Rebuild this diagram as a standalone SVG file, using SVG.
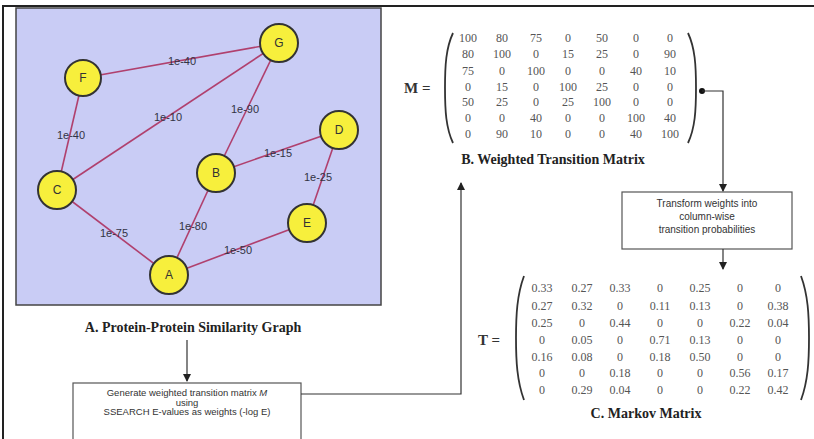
<svg xmlns="http://www.w3.org/2000/svg" width="814" height="439" viewBox="0 0 814 439">
<defs>
<style>
.node circle{fill:#f7ef3c;stroke:#333;stroke-width:2}
.node text{font-family:"Liberation Sans",Arial,sans-serif;font-size:12px;fill:#333;text-anchor:middle;dominant-baseline:central}
.edge{stroke:#b0406e;stroke-width:1.6;fill:none}
.elab{font-family:"Liberation Sans",Arial,sans-serif;font-size:11px;fill:#334;text-anchor:middle;dominant-baseline:central}
.title{font-family:"Liberation Serif","Times New Roman",serif;font-size:14px;font-weight:bold;fill:#222;text-anchor:middle}
.mx text{font-family:"Liberation Serif","Times New Roman",serif;font-size:12px;fill:#555;text-anchor:middle;dominant-baseline:central}
.meq{font-family:"Liberation Serif","Times New Roman",serif;font-size:15px;font-weight:bold;fill:#333;dominant-baseline:central}
.paren{stroke:#333;stroke-width:1.8;fill:none}
.box rect{fill:#fff;stroke:#555;stroke-width:1.2}
.box text{font-family:"Liberation Sans",Arial,sans-serif;font-size:10px;fill:#333;text-anchor:middle}
.box text.sm{font-size:9.5px}
.conn{stroke:#333;stroke-width:1.2;fill:none}
</style>
<marker id="arr" markerWidth="8" markerHeight="8" refX="7" refY="4" orient="auto" markerUnits="userSpaceOnUse">
<path d="M0,0 L8,4 L0,8 Z" fill="#222"/>
</marker>
</defs>
<rect width="814" height="439" fill="#fff"/>
<path d="M3,439 V6 H814" stroke="#222" stroke-width="2" fill="none"/>

<g id="graph-panel">
<rect x="16" y="8" width="365" height="297" fill="#c9ccf5" stroke="#444" stroke-width="1.5"/>
<g id="graph-edges">
<line class="edge" x1="83" y1="78" x2="279" y2="43"/>
<line class="edge" x1="57" y1="190" x2="279" y2="43"/>
<line class="edge" x1="216" y1="173" x2="279" y2="43"/>
<line class="edge" x1="83" y1="78" x2="57" y2="190"/>
<line class="edge" x1="216" y1="173" x2="339" y2="130"/>
<line class="edge" x1="339" y1="130" x2="307" y2="223"/>
<line class="edge" x1="57" y1="190" x2="169" y2="275"/>
<line class="edge" x1="216" y1="173" x2="169" y2="275"/>
<line class="edge" x1="169" y1="275" x2="307" y2="223"/>
<text class="elab" x="182" y="61">1e-40</text>
<text class="elab" x="168" y="117">1e-10</text>
<text class="elab" x="245" y="109">1e-90</text>
<text class="elab" x="71" y="135">1e-40</text>
<text class="elab" x="278" y="153">1e-15</text>
<text class="elab" x="318" y="177">1e-25</text>
<text class="elab" x="114" y="233">1e-75</text>
<text class="elab" x="193" y="226">1e-80</text>
<text class="elab" x="238" y="250">1e-50</text>
</g>
<g id="node-G" class="node"><circle cx="279" cy="43" r="19"/><text x="279" y="43">G</text></g>
<g id="node-F" class="node"><circle cx="83" cy="78" r="18"/><text x="83" y="78">F</text></g>
<g id="node-D" class="node"><circle cx="339" cy="130" r="19"/><text x="339" y="130">D</text></g>
<g id="node-B" class="node"><circle cx="216" cy="173" r="19"/><text x="216" y="173">B</text></g>
<g id="node-C" class="node"><circle cx="57" cy="190" r="19"/><text x="57" y="190">C</text></g>
<g id="node-E" class="node"><circle cx="307" cy="223" r="19"/><text x="307" y="223">E</text></g>
<g id="node-A" class="node"><circle cx="169" cy="275" r="19"/><text x="169" y="275">A</text></g>
</g>

<g id="title-A"><text class="title" x="193" y="332">A. Protein-Protein Similarity Graph</text></g>

<g id="box-generate" class="box">
<rect x="73" y="383" width="228" height="70"/>
<text class="sm" x="187" y="396">Generate weighted transition matrix <tspan font-style="italic">M</tspan></text>
<text class="sm" x="187" y="405.5">using</text>
<text class="sm" x="187" y="415">SSEARCH E-values as weights (-log E)</text>
</g>

<g id="matrix-M">
<text class="meq" x="404" y="88">M =</text>
<path class="paren" d="M453,33 C446,48 445,65 445,88 C445,111 446,128 453,143"/>
<path class="paren" d="M688,33 C695,48 696,65 696,88 C696,111 695,128 688,143"/>
<g class="mx">
<text x="468" y="38">100</text><text x="502" y="38">80</text><text x="536" y="38">75</text><text x="568" y="38">0</text><text x="602" y="38">50</text><text x="636" y="38">0</text><text x="670" y="38">0</text>
<text x="468" y="54">80</text><text x="502" y="54">100</text><text x="536" y="54">0</text><text x="568" y="54">15</text><text x="602" y="54">25</text><text x="636" y="54">0</text><text x="670" y="54">90</text>
<text x="468" y="71">75</text><text x="502" y="71">0</text><text x="536" y="71">100</text><text x="568" y="71">0</text><text x="602" y="71">0</text><text x="636" y="71">40</text><text x="670" y="71">10</text>
<text x="468" y="87">0</text><text x="502" y="87">15</text><text x="536" y="87">0</text><text x="568" y="87">100</text><text x="602" y="87">25</text><text x="636" y="87">0</text><text x="670" y="87">0</text>
<text x="468" y="102">50</text><text x="502" y="102">25</text><text x="536" y="102">0</text><text x="568" y="102">25</text><text x="602" y="102">100</text><text x="636" y="102">0</text><text x="670" y="102">0</text>
<text x="468" y="118">0</text><text x="502" y="118">0</text><text x="536" y="118">40</text><text x="568" y="118">0</text><text x="602" y="118">0</text><text x="636" y="118">100</text><text x="670" y="118">40</text>
<text x="468" y="134">0</text><text x="502" y="134">90</text><text x="536" y="134">10</text><text x="568" y="134">0</text><text x="602" y="134">0</text><text x="636" y="134">40</text><text x="670" y="134">100</text>
</g>
<text class="title" x="553" y="164">B. Weighted Transition Matrix</text>
</g>

<g id="box-transform" class="box">
<rect x="622" y="192" width="170" height="57"/>
<text x="707" y="207">Transform weights into</text>
<text x="707" y="220">column-wise</text>
<text x="707" y="233">transition probabilities</text>
</g>

<g id="matrix-T">
<text class="meq" x="478" y="340">T =</text>
<path class="paren" d="M524,276 C517,295 516,315 516,338 C516,361 517,381 524,400"/>
<path class="paren" d="M801,276 C808,295 809,315 809,338 C809,361 808,381 801,400"/>
<g class="mx">
<text x="542" y="288">0.33</text><text x="582" y="288">0.27</text><text x="620" y="288">0.33</text><text x="660" y="288">0</text><text x="700" y="288">0.25</text><text x="740" y="288">0</text><text x="778" y="288">0</text>
<text x="542" y="306">0.27</text><text x="582" y="306">0.32</text><text x="620" y="306">0</text><text x="660" y="306">0.11</text><text x="700" y="306">0.13</text><text x="740" y="306">0</text><text x="778" y="306">0.38</text>
<text x="542" y="323">0.25</text><text x="582" y="323">0</text><text x="620" y="323">0.44</text><text x="660" y="323">0</text><text x="700" y="323">0</text><text x="740" y="323">0.22</text><text x="778" y="323">0.04</text>
<text x="542" y="340">0</text><text x="582" y="340">0.05</text><text x="620" y="340">0</text><text x="660" y="340">0.71</text><text x="700" y="340">0.13</text><text x="740" y="340">0</text><text x="778" y="340">0</text>
<text x="542" y="357">0.16</text><text x="582" y="357">0.08</text><text x="620" y="357">0</text><text x="660" y="357">0.18</text><text x="700" y="357">0.50</text><text x="740" y="357">0</text><text x="778" y="357">0</text>
<text x="542" y="373">0</text><text x="582" y="373">0</text><text x="620" y="373">0.18</text><text x="660" y="373">0</text><text x="700" y="373">0</text><text x="740" y="373">0.56</text><text x="778" y="373">0.17</text>
<text x="542" y="390">0</text><text x="582" y="390">0.29</text><text x="620" y="390">0.04</text><text x="660" y="390">0</text><text x="700" y="390">0</text><text x="740" y="390">0.22</text><text x="778" y="390">0.42</text>
</g>
<text class="title" x="646" y="418">C.  Markov Matrix</text>
</g>

<g id="connectors">
<line class="conn" x1="187" y1="340" x2="187" y2="381" marker-end="url(#arr)"/>
<polyline class="conn" points="301,394 461,394 461,183" marker-end="url(#arr)"/>
<circle cx="702" cy="91" r="3" fill="#111"/>
<polyline class="conn" points="702,91 723,91 723,191" marker-end="url(#arr)"/>
<line class="conn" x1="723" y1="249" x2="723" y2="269" marker-end="url(#arr)"/>
</g>
</svg>
